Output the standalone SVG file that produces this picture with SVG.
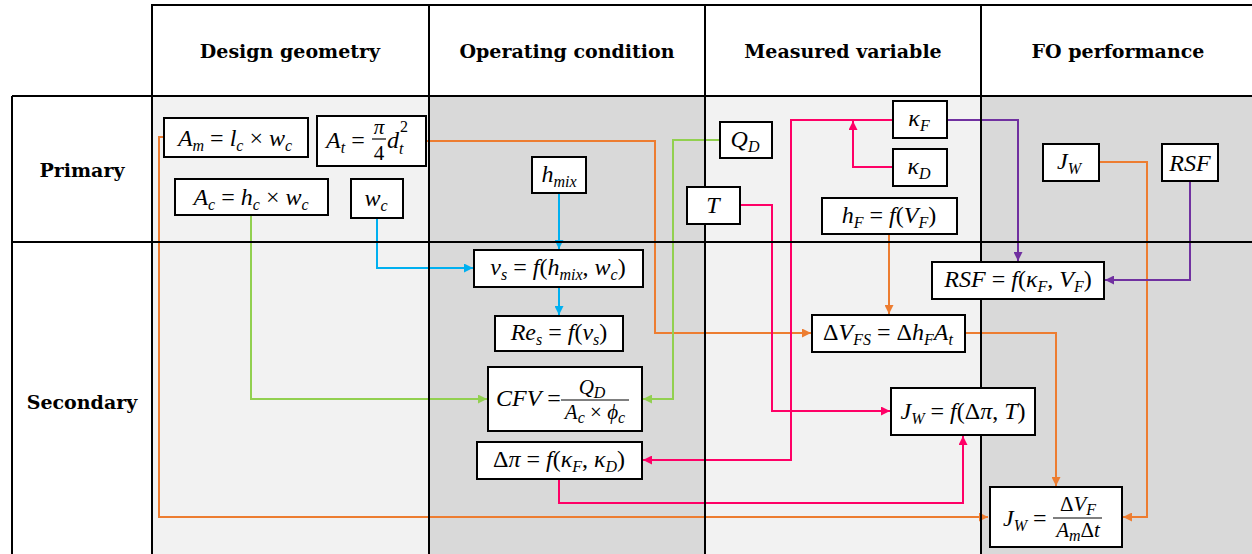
<svg xmlns="http://www.w3.org/2000/svg" width="1252" height="554" viewBox="0 0 1252 554">
<style>
.hd{font-family:"DejaVu Serif","Liberation Serif",serif;font-weight:bold;font-size:19px;fill:#000}
.m{font-family:"Liberation Serif",serif;font-style:italic;font-size:24px;fill:#000}
.f{font-size:21px}
.u{font-style:normal}
.s{font-size:16px}
.box{fill:#fff;stroke:#000;stroke-width:2}
.grid{stroke:#000;stroke-width:2;fill:none}
.c{fill:none;stroke-width:2}
.or{stroke:#ED7D31}.gr{stroke:#92D050}.bl{stroke:#00B0F0}.pk{stroke:#FF0066}.pu{stroke:#7030A0}
</style>
<defs>
<marker id="aOr" viewBox="0 0 10 10" refX="10" refY="5" markerUnits="userSpaceOnUse" markerWidth="9" markerHeight="9" orient="auto"><path d="M0,0 L10,5 L0,10 z" fill="#ED7D31"/></marker>
<marker id="aGr" viewBox="0 0 10 10" refX="10" refY="5" markerUnits="userSpaceOnUse" markerWidth="9" markerHeight="9" orient="auto"><path d="M0,0 L10,5 L0,10 z" fill="#92D050"/></marker>
<marker id="aBl" viewBox="0 0 10 10" refX="10" refY="5" markerUnits="userSpaceOnUse" markerWidth="9" markerHeight="9" orient="auto"><path d="M0,0 L10,5 L0,10 z" fill="#00B0F0"/></marker>
<marker id="aPk" viewBox="0 0 10 10" refX="10" refY="5" markerUnits="userSpaceOnUse" markerWidth="9" markerHeight="9" orient="auto"><path d="M0,0 L10,5 L0,10 z" fill="#FF0066"/></marker>
<marker id="aPu" viewBox="0 0 10 10" refX="10" refY="5" markerUnits="userSpaceOnUse" markerWidth="9" markerHeight="9" orient="auto"><path d="M0,0 L10,5 L0,10 z" fill="#7030A0"/></marker>
</defs>
<rect width="1252" height="554" fill="#fff"/>
<g id="table">
<rect x="152" y="96" width="277" height="458" fill="#f2f2f2"/>
<rect x="429" y="96" width="276" height="458" fill="#d9d9d9"/>
<rect x="705" y="96" width="276" height="458" fill="#f2f2f2"/>
<rect x="981" y="96" width="271" height="458" fill="#d9d9d9"/>
<text class="hd" x="290" y="58" text-anchor="middle">Design geometry</text>
<text class="hd" x="567" y="58" text-anchor="middle">Operating condition</text>
<text class="hd" x="843" y="58" text-anchor="middle">Measured variable</text>
<text class="hd" x="1118" y="58" text-anchor="middle">FO performance</text>
<text class="hd" x="82" y="177" text-anchor="middle">Primary</text>
<text class="hd" x="82" y="409" text-anchor="middle">Secondary</text>
</g>
<g id="connectors">
<polyline class="c or" points="163,137 159,137 159,517 988,517" marker-end="url(#aOr)"/>
<polyline class="c or" points="426,141 655,141 655,333 811,333" marker-end="url(#aOr)"/>
<polyline class="c or" points="889,234 889,314" marker-end="url(#aOr)"/>
<polyline class="c or" points="965,333 1056,333 1056,486" marker-end="url(#aOr)"/>
<polyline class="c or" points="1099,162 1147,162 1147,517 1123,517" marker-end="url(#aOr)"/>
<polyline class="c gr" points="251,215 251,399 487,399" marker-end="url(#aGr)"/>
<polyline class="c gr" points="720,140 673,140 673,399 643,399" marker-end="url(#aGr)"/>
<polyline class="c bl" points="377,218 377,268 473,268" marker-end="url(#aBl)"/>
<polyline class="c bl" points="559,193 559,249" marker-end="url(#aBl)"/>
<polyline class="c bl" points="559,287 559,315" marker-end="url(#aBl)"/>
<polyline class="c pk" points="893,120 791,120 791,460 643,460" marker-end="url(#aPk)"/>
<polyline class="c pk" points="893,167 853,167 853,121" marker-end="url(#aPk)"/>
<polyline class="c pk" points="740,205 772,205 772,411 890,411" marker-end="url(#aPk)"/>
<polyline class="c pk" points="559,479 559,503 963,503 963,436" marker-end="url(#aPk)"/>
<polyline class="c pu" points="947,120 1018,120 1018,261" marker-end="url(#aPu)"/>
<polyline class="c pu" points="1190,181 1190,280 1105,280" marker-end="url(#aPu)"/>
</g>
<g id="gridlines" class="grid">
<polyline points="152,554 152,5 1252,5"/>
<line x1="429" y1="5" x2="429" y2="554"/>
<line x1="705" y1="5" x2="705" y2="554"/>
<line x1="981" y1="5" x2="981" y2="554"/>
<line x1="12" y1="96" x2="1252" y2="96"/>
<line x1="12" y1="242" x2="1252" y2="242"/>
<line x1="12" y1="96" x2="12" y2="554"/>
</g>
<g id="n-Am"><rect class="box" x="164" y="118" width="144" height="39"/>
<text class="m" x="235" y="146" text-anchor="middle">A<tspan class="s" dy="5">m</tspan><tspan class="u" dy="-5"> = </tspan>l<tspan class="s" dy="5">c</tspan><tspan class="u" dy="-5"> × </tspan>w<tspan class="s" dy="5">c</tspan></text></g>
<g id="n-At"><rect class="box" x="317" y="116" width="109" height="50"/>
<text class="m" x="326" y="148">A<tspan class="s" dy="5">t</tspan><tspan class="u" dy="-5"> =</tspan></text>
<text class="m f" x="379" y="134" text-anchor="middle">π</text>
<line x1="372" y1="139" x2="386" y2="139" stroke="#000" stroke-width="1.2"/>
<text class="m f u" x="379" y="160" text-anchor="middle">4</text>
<text class="m" x="387" y="148">d<tspan class="s" dy="6">t</tspan></text>
<text class="m s u" x="400" y="132">2</text></g>
<g id="n-Ac"><rect class="box" x="175" y="179" width="153" height="36"/>
<text class="m" x="251" y="205" text-anchor="middle">A<tspan class="s" dy="5">c</tspan><tspan class="u" dy="-5"> = </tspan>h<tspan class="s" dy="5">c</tspan><tspan class="u" dy="-5"> × </tspan>w<tspan class="s" dy="5">c</tspan></text></g>
<g id="n-wc"><rect class="box" x="351" y="179" width="52" height="39"/>
<text class="m" x="376" y="206" text-anchor="middle">w<tspan class="s" dy="5">c</tspan></text></g>
<g id="n-hmix"><rect class="box" x="532" y="157" width="54" height="36"/>
<text class="m" x="559" y="182" text-anchor="middle">h<tspan class="s" dy="5">mix</tspan></text></g>
<g id="n-QD"><rect class="box" x="720" y="122" width="52" height="36"/>
<text class="m" x="745" y="147" text-anchor="middle">Q<tspan class="s" dy="5">D</tspan></text></g>
<g id="n-T"><rect class="box" x="687" y="187" width="53" height="37"/>
<text class="m" x="713" y="213" text-anchor="middle">T</text></g>
<g id="n-kF"><rect class="box" x="893" y="101" width="54" height="37"/>
<text class="m" x="919" y="126" text-anchor="middle">κ<tspan class="s" dy="5">F</tspan></text></g>
<g id="n-kD"><rect class="box" x="893" y="149" width="54" height="37"/>
<text class="m" x="919" y="174" text-anchor="middle">κ<tspan class="s" dy="5">D</tspan></text></g>
<g id="n-hF"><rect class="box" x="822" y="198" width="135" height="36"/>
<text class="m" x="889" y="223" text-anchor="middle">h<tspan class="s" dy="5">F</tspan><tspan class="u" dy="-5"> = </tspan>f<tspan class="u">(</tspan>V<tspan class="s" dy="5">F</tspan><tspan class="u" dy="-5">)</tspan></text></g>
<g id="n-JW1"><rect class="box" x="1043" y="144" width="56" height="37"/>
<text class="m" x="1069" y="169" text-anchor="middle">J<tspan class="s" dy="5">W</tspan></text></g>
<g id="n-RSF1"><rect class="box" x="1162" y="144" width="56" height="37"/>
<text class="m" x="1190" y="171" text-anchor="middle">RSF</text></g>
<g id="n-RSF2"><rect class="box" x="932" y="262" width="172" height="37"/>
<text class="m" x="1018" y="287" text-anchor="middle">RSF<tspan class="u"> = </tspan>f<tspan class="u">(</tspan>κ<tspan class="s" dy="5">F</tspan><tspan class="u" dy="-5">, </tspan>V<tspan class="s" dy="5">F</tspan><tspan class="u" dy="-5">)</tspan></text></g>
<g id="n-vs"><rect class="box" x="474" y="250" width="169" height="37"/>
<text class="m" x="558" y="275" text-anchor="middle">v<tspan class="s" dy="5">s</tspan><tspan class="u" dy="-5"> = </tspan>f<tspan class="u">(</tspan>h<tspan class="s" dy="5">mix</tspan><tspan class="u" dy="-5">, </tspan>w<tspan class="s" dy="5">c</tspan><tspan class="u" dy="-5">)</tspan></text></g>
<g id="n-Res"><rect class="box" x="495" y="316" width="128" height="35"/>
<text class="m" x="559" y="340" text-anchor="middle">Re<tspan class="s" dy="5">s</tspan><tspan class="u" dy="-5"> = </tspan>f<tspan class="u">(</tspan>v<tspan class="s" dy="5">s</tspan><tspan class="u" dy="-5">)</tspan></text></g>
<g id="n-CFV"><rect class="box" x="488" y="367" width="154" height="64"/>
<text class="m" x="496" y="406">CFV<tspan class="u"> =</tspan></text>
<text class="m f" x="592" y="394" text-anchor="middle">Q<tspan class="s" dy="4">D</tspan></text>
<line x1="561" y1="400" x2="629" y2="400" stroke="#000" stroke-width="1.2"/>
<text class="m f" x="595" y="419" text-anchor="middle">A<tspan class="s" dy="4">c</tspan><tspan class="u" dy="-4"> × </tspan>ϕ<tspan class="s" dy="4">c</tspan></text></g>
<g id="n-dpi"><rect class="box" x="477" y="442" width="165" height="37"/>
<text class="m" x="559" y="467" text-anchor="middle"><tspan class="u">Δ</tspan>π<tspan class="u"> = </tspan>f<tspan class="u">(</tspan>κ<tspan class="s" dy="5">F</tspan><tspan class="u" dy="-5">, </tspan>κ<tspan class="s" dy="5">D</tspan><tspan class="u" dy="-5">)</tspan></text></g>
<g id="n-dVFS"><rect class="box" x="812" y="315" width="153" height="37"/>
<text class="m" x="888" y="340" text-anchor="middle"><tspan class="u">Δ</tspan>V<tspan class="s" dy="5">FS</tspan><tspan class="u" dy="-5"> = Δ</tspan>h<tspan class="s" dy="5">F</tspan><tspan dy="-5">A</tspan><tspan class="s" dy="5">t</tspan></text></g>
<g id="n-JW2"><rect class="box" x="891" y="388" width="144" height="47"/>
<text class="m" x="963" y="419" text-anchor="middle">J<tspan class="s" dy="5">W</tspan><tspan class="u" dy="-5"> = </tspan>f<tspan class="u">(Δ</tspan>π<tspan class="u">, </tspan>T<tspan class="u">)</tspan></text></g>
<g id="n-JW3"><rect class="box" x="990" y="487" width="132" height="60"/>
<text class="m" x="1003" y="526">J<tspan class="s" dy="5">W</tspan><tspan class="u" dy="-5"> =</tspan></text>
<text class="m f" x="1078" y="511" text-anchor="middle"><tspan class="u">Δ</tspan>V<tspan class="s" dy="4">F</tspan></text>
<line x1="1053" y1="518" x2="1102" y2="518" stroke="#000" stroke-width="1.2"/>
<text class="m f" x="1078" y="537" text-anchor="middle">A<tspan class="s" dy="4">m</tspan><tspan class="u" dy="-4">Δ</tspan>t</text></g>
</svg>
